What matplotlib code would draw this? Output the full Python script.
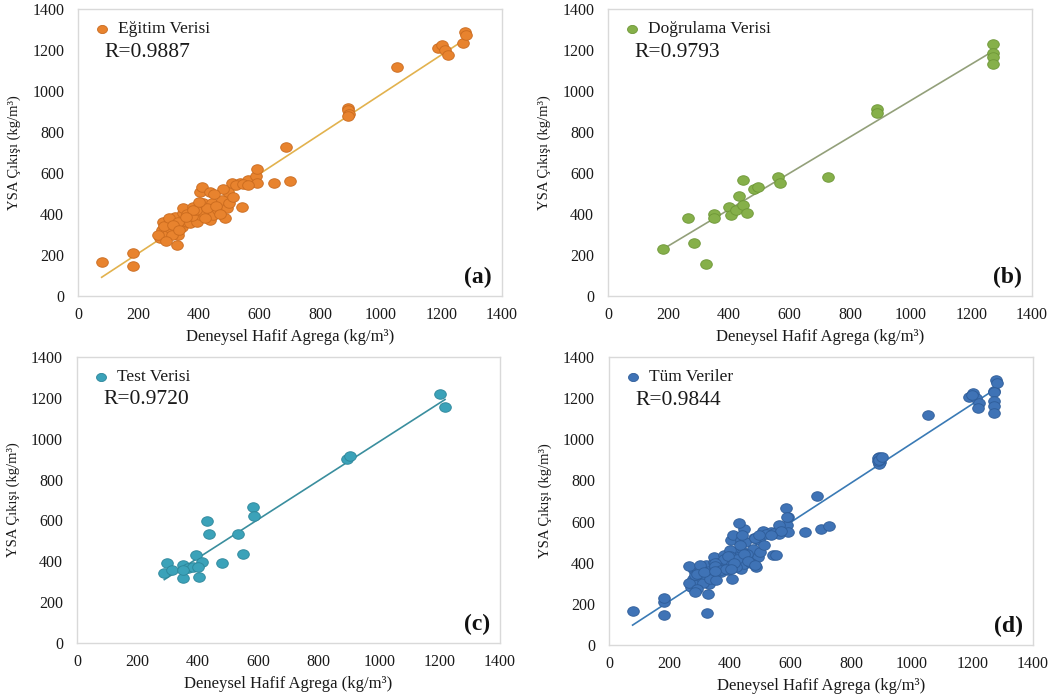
import numpy as np
import matplotlib
matplotlib.use("Agg")
import matplotlib.pyplot as plt
from matplotlib.path import Path

plt.rcParams['font.family'] = ['Liberation Serif', 'DejaVu Serif']

# ---------------- data ----------------
train_x = [78, 180, 180,
           271, 276, 282, 293, 304, 304, 320, 326, 331, 342, 348, 348, 359, 370,
           381, 392, 403, 403, 408, 414, 414, 436, 436, 441, 447, 463, 474, 485,
           491, 496, 500, 507, 513, 535, 540, 562, 588, 590, 590, 647, 700, 686,
           265, 285, 300, 310, 330, 360, 375, 390, 420, 425, 455, 470, 480, 520,
           545, 560, 380, 400, 450, 290, 315, 335, 355,
           890, 893, 895, 890, 1052, 1190, 1201, 1212, 1223, 1270, 1278, 1281]
train_y = [165, 211, 145,
           281, 322, 363, 298, 330, 371, 387, 250, 298, 338, 403, 428, 363, 355,
           436, 363, 395, 509, 533, 412, 452, 371, 509, 452, 395, 420, 468, 379,
           428, 509, 452, 553, 484, 550, 436, 566, 585, 550, 620, 550, 562, 725,
           300, 340, 380, 300, 360, 400, 390, 420, 380, 430, 440, 400, 520, 540,
           545, 540, 420, 460, 500, 270, 345, 320, 385,
           915, 905, 890, 878, 1119, 1208, 1224, 1200, 1176, 1233, 1290, 1273]

val_x = [180, 265, 285, 325, 350, 350, 400, 405, 422, 445, 433, 447, 458,
         482, 496, 562, 568, 725, 887, 887, 1272, 1272, 1272, 1272]
val_y = [228, 382, 260, 157, 398, 380, 433, 395, 420, 566, 488, 444, 406,
         520, 533, 582, 553, 579, 911, 895, 1229, 1184, 1164, 1130]

test_x = [1200, 1218, 893, 902, 584, 587, 429, 438, 534, 551, 481, 394, 413,
          299, 289, 314, 350, 352, 369, 385, 402, 405, 350]
test_y = [1217, 1153, 899, 915, 667, 623, 595, 533, 533, 436, 390, 431, 398,
          390, 344, 357, 382, 317, 366, 371, 370, 322, 358]

all_x = train_x + val_x + test_x
all_y = train_y + val_y + test_y

series_names = ['Eğitim Verisi', 'Doğrulama Verisi', 'Test Verisi', 'Tüm Veriler']
r_values = ['R=0.9887', 'R=0.9793', 'R=0.9720', 'R=0.9844']
panel_tags = ['(a)', '(b)', '(c)', '(d)']
# trend lines (slope, intercept)
trend_slope = [0.967, 0.886, 0.949, 0.958]
trend_icpt = [16, 68, 36, 22]

ticks = [0, 200, 400, 600, 800, 1000, 1200, 1400]
xlabel = 'Deneysel Hafif Agrega (kg/m³)'
ylabel = 'YSA Çıkışı (kg/m³)'

# ---------------- style ----------------
marker_col = ['#E8832E', '#86B04A', '#3BA2B9', '#3F73B6']
edge_col = ['#C96A1E', '#6D9636', '#2C8599', '#2E5C98']
line_col = ['#E2B24E', '#93A07A', '#3A8E9E', '#3A7AB5']

positions = [
    [0.0739, 0.5753, 0.4015, 0.4118],
    [0.5758, 0.5753, 0.4015, 0.4118],
    [0.0729, 0.0775, 0.4006, 0.4103],
    [0.5767, 0.0746, 0.4015, 0.4132],
]

theta = np.linspace(0, 2 * np.pi, 60)
ell = Path(np.column_stack([np.cos(theta), 0.82 * np.sin(theta)]))

fig = plt.figure(figsize=(10.56, 6.97), dpi=100)
datasets = [(train_x, train_y), (val_x, val_y), (test_x, test_y), (all_x, all_y)]
txt = '#1a1a1a'

for i, (xs, ys) in enumerate(datasets):
    ax = fig.add_axes(positions[i])
    xs = np.array(xs, dtype=float)
    ys = np.array(ys, dtype=float)
    ax.scatter(xs, ys, s=70, marker=ell, color=marker_col[i],
               edgecolors=edge_col[i], linewidths=0.6, zorder=3,
               label=series_names[i])
    lx = np.array([xs.min(), xs.max()])
    ax.plot(lx, trend_slope[i] * lx + trend_icpt[i], color=line_col[i],
            lw=1.2, zorder=2)
    ax.set_xlim(0, 1400)
    ax.set_ylim(0, 1400)
    ax.set_xticks(ticks)
    ax.set_yticks(ticks)
    ax.tick_params(length=0, labelsize=11.5, labelcolor=txt)
    ax.tick_params(axis='y', pad=10)
    ax.tick_params(axis='x', pad=8)
    for sp in ax.spines.values():
        sp.set_color('#D9D9D9')
        sp.set_linewidth(1.0)
    ax.set_xlabel(xlabel, fontsize=12, color=txt, labelpad=4)
    ax.set_ylabel(ylabel, fontsize=10.5, color=txt, labelpad=8)
    leg = ax.legend(loc='upper left', bbox_to_anchor=(-0.012, 1.0),
                    frameon=False, fontsize=12.5, handletextpad=-0.1,
                    borderaxespad=0.3, markerscale=0.85)
    for t in leg.get_texts():
        t.set_color(txt)
    ax.text(0.062, 0.85, r_values[i], transform=ax.transAxes, fontsize=15.5,
            ha='left', va='center', color=txt)
    ax.text(0.976, 0.066, panel_tags[i], transform=ax.transAxes, fontsize=17,
            fontweight='bold', ha='right', va='center', color='#111111')

fig.savefig('out.png', dpi=100)
